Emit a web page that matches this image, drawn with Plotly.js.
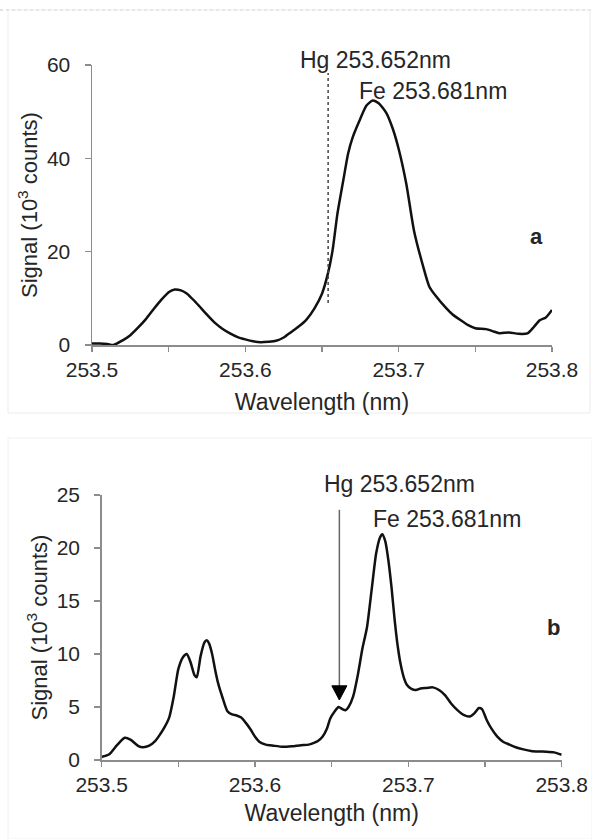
<!DOCTYPE html>
<html><head><meta charset="utf-8">
<script src="https://cdn.plot.ly/plotly-3.0.1.min.js"></script>
<style>html,body{margin:0;padding:0;background:#fff}#chart{width:592px;height:839px}</style>
</head><body><div id="chart"></div>
<script>
// Panel a: spectrum
const wavelengthA = [253.500,253.505,253.510,253.514,253.520,253.525,253.530,253.535,253.540,253.545,253.550,253.554,253.558,253.562,253.566,253.570,253.575,253.580,253.585,253.590,253.595,253.600,253.605,253.610,253.615,253.620,253.625,253.630,253.635,253.640,253.645,253.650,253.654,253.657,253.660,253.664,253.667,253.670,253.675,253.679,253.683,253.687,253.692,253.696,253.700,253.705,253.710,253.716,253.720,253.724,253.731,253.735,253.740,253.745,253.750,253.757,253.762,253.766,253.772,253.778,253.784,253.788,253.792,253.796,253.800];
const signalA     = [0.3,0.3,0.2,0.0,1.0,2.1,3.7,5.5,7.6,9.6,11.3,11.9,11.7,11.0,9.7,8.3,6.5,4.8,3.5,2.5,1.7,1.2,0.8,0.6,0.7,0.9,1.6,2.8,4.0,5.5,7.8,11.0,15.5,20.5,28.0,35.5,41.0,44.5,48.5,51.3,52.4,51.8,49.7,46.5,42.0,34.5,24.5,16.8,12.5,10.6,7.9,6.6,5.4,4.3,3.6,3.4,2.9,2.5,2.7,2.4,2.5,3.8,5.3,5.9,7.5];

// Panel b: spectrum
const wavelengthB = [253.500,253.505,253.510,253.515,253.519,253.524,253.527,253.531,253.535,253.538,253.541,253.544,253.547,253.550,253.553,253.5555,253.558,253.5605,253.562,253.5645,253.567,253.5685,253.570,253.572,253.574,253.576,253.579,253.582,253.585,253.588,253.591,253.594,253.597,253.600,253.603,253.607,253.612,253.618,253.624,253.630,253.635,253.638,253.641,253.644,253.647,253.649,253.652,253.6545,253.657,253.659,253.661,253.664,253.667,253.670,253.673,253.676,253.679,253.6815,253.683,253.685,253.687,253.689,253.691,253.693,253.695,253.697,253.699,253.702,253.705,253.708,253.712,253.716,253.720,253.724,253.728,253.732,253.736,253.740,253.743,253.746,253.748,253.751,253.754,253.758,253.762,253.766,253.770,253.775,253.780,253.785,253.790,253.795,253.800];
const signalB     = [0.3,0.55,1.4,2.1,1.9,1.3,1.2,1.35,1.8,2.4,3.1,4.0,6.0,8.6,9.7,10.0,9.2,8.0,7.8,9.8,11.1,11.3,11.0,10.0,8.5,7.2,5.8,4.6,4.3,4.2,4.0,3.5,2.9,2.2,1.7,1.45,1.35,1.25,1.3,1.4,1.45,1.6,1.8,2.2,3.0,3.9,4.6,5.0,4.8,4.7,5.0,6.0,8.0,10.5,12.5,16.0,19.5,21.0,21.3,20.6,18.8,16.3,13.3,10.8,9.0,7.8,7.1,6.7,6.6,6.75,6.8,6.85,6.6,6.1,5.3,4.7,4.25,4.1,4.4,4.9,4.8,3.8,3.0,2.2,1.7,1.45,1.2,1.0,0.85,0.8,0.78,0.72,0.5];

// Ticks
const xTickVals = [253.5,253.6,253.7,253.8];
const xTickText = ['253.5','253.6','253.7','253.8'];
const xMinorTickVals = [253.55,253.65,253.75];
const yTicksA = [0,20,40,60];
const yTicksB = [0,5,10,15,20,25];

// Line markers / labels
const hgMarkA = {x: 253.654, y0: 9, y1: 58.3};
const hgArrowB = {x: 253.655, yTail: 23.6, yHead: 7.0, yTip: 5.66, halfWidth: 0.0049};
const labelHg = 'Hg 253.652nm';
const labelFe = 'Fe 253.681nm';
const yTitle = 'Signal (10<sup>3</sup> counts)';
const xTitle = 'Wavelength (nm)';

const W = 592, H = 839;
const FONT = 'Liberation Sans, Arial, sans-serif';
const AXC = '#8c8c8c';
const TXC = '#262626';

function xAxis(domain, anchor, standoff) {
  return {
    domain: domain, anchor: anchor, range: [253.5, 253.8],
    tickmode: 'array', tickvals: xTickVals, ticktext: xTickText,
    ticks: 'outside', ticklen: 5, tickwidth: 1.5, tickcolor: AXC,
    minor: {tickmode: 'array', tickvals: xMinorTickVals, ticks: 'outside', ticklen: 5, tickwidth: 1.5, tickcolor: AXC, showgrid: false},
    showline: true, linecolor: AXC, linewidth: 1.5,
    showgrid: false, zeroline: false,
    tickfont: {family: FONT, size: 21, color: TXC},
    title: {text: xTitle, font: {family: FONT, size: 23, color: TXC}, standoff: standoff}
  };
}
function yAxis(domain, anchor, ticks, range, standoff) {
  return {
    domain: domain, anchor: anchor, range: range,
    tickmode: 'array', tickvals: ticks,
    ticks: 'outside', ticklen: 6, tickwidth: 1.5, tickcolor: AXC,
    showline: true, linecolor: AXC, linewidth: 1.5,
    showgrid: false, zeroline: false,
    ticklabelstandoff: 10,
    tickfont: {family: FONT, size: 21, color: TXC},
    title: {text: yTitle, font: {family: FONT, size: 22, color: TXC}, standoff: standoff}
  };
}

const traces = [
  {x: wavelengthA, y: signalA, xaxis: 'x', yaxis: 'y', type: 'scatter', mode: 'lines',
   line: {color: '#111', width: 2.5, shape: 'spline', smoothing: 0.6}, hoverinfo: 'skip', showlegend: false},
  {x: wavelengthB, y: signalB, xaxis: 'x2', yaxis: 'y2', type: 'scatter', mode: 'lines',
   line: {color: '#111', width: 2.5, shape: 'spline', smoothing: 0.6}, hoverinfo: 'skip', showlegend: false}
];

const annFont = {family: FONT, size: 23, color: TXC};
const hx = hgArrowB.x, hw = hgArrowB.halfWidth;
const layout = {
  width: W, height: H,
  margin: {l: 0, r: 0, t: 0, b: 0},
  paper_bgcolor: '#fff', plot_bgcolor: '#fff',
  showlegend: false,
  xaxis: xAxis([92/W, 552/W], 'y', 14),
  yaxis: yAxis([1 - 345/H, 1 - 65/H], 'x', yTicksA, [0, 60], 3),
  xaxis2: xAxis([101.7/W, 561.7/W], 'y2', 10),
  yaxis2: yAxis([1 - 760/H, 1 - 495/H], 'x2', yTicksB, [0, 25], 3),
  shapes: [
    {type: 'line', xref: 'paper', yref: 'paper', x0: 0, x1: 1, y0: 1 - 10/H, y1: 1 - 10/H,
     line: {color: '#c8c8c8', width: 1, dash: 'dot'}},
    {type: 'rect', xref: 'paper', yref: 'paper', x0: 8/W, x1: 590/W, y0: 1 - 413/H, y1: 1 - 10/H,
     line: {color: '#ececec', width: 1}},
    {type: 'rect', xref: 'paper', yref: 'paper', x0: 8/W, x1: 1, y0: 0, y1: 1 - 438/H,
     line: {color: '#f0f0f0', width: 1}},
    {type: 'line', xref: 'x', yref: 'y', x0: hgMarkA.x, x1: hgMarkA.x, y0: hgMarkA.y0, y1: hgMarkA.y1,
     line: {color: '#444', width: 1.5, dash: 'dot'}},
    {type: 'line', xref: 'x2', yref: 'y2', x0: hx, x1: hx, y0: hgArrowB.yHead, y1: hgArrowB.yTail,
     line: {color: '#666', width: 1.5}},
    {type: 'path', xref: 'x2', yref: 'y2',
     path: 'M' + (hx - hw) + ',' + hgArrowB.yHead + ' L' + (hx + hw) + ',' + hgArrowB.yHead + ' L' + hx + ',' + hgArrowB.yTip + ' Z',
     fillcolor: '#000', line: {color: '#000', width: 1}}
  ],
  annotations: [
    {xref: 'x', yref: 'paper', x: 253.6343, y: 1 - 60/H, xanchor: 'left', yanchor: 'middle',
     text: labelHg, showarrow: false, font: annFont},
    {xref: 'x', yref: 'paper', x: 253.6728, y: 1 - 91/H, xanchor: 'left', yanchor: 'middle',
     text: labelFe, showarrow: false, font: annFont},
    {xref: 'paper', yref: 'paper', x: 536/W, y: 1 - 236/H, xanchor: 'center', yanchor: 'middle',
     text: '<b>a</b>', showarrow: false, font: {family: FONT, size: 22, color: TXC}},
    {xref: 'x2', yref: 'paper', x: 253.6435, y: 1 - 484/H, xanchor: 'left', yanchor: 'middle',
     text: labelHg, showarrow: false, font: annFont},
    {xref: 'x2', yref: 'paper', x: 253.6754, y: 1 - 518.5/H, xanchor: 'left', yanchor: 'middle',
     text: labelFe, showarrow: false, font: annFont},
    {xref: 'paper', yref: 'paper', x: 553/W, y: 1 - 627/H, xanchor: 'center', yanchor: 'middle',
     text: '<b>b</b>', showarrow: false, font: {family: FONT, size: 22, color: TXC}}
  ]
};

Plotly.newPlot('chart', traces, layout, {staticPlot: true, displayModeBar: false});
</script>
</body></html>
